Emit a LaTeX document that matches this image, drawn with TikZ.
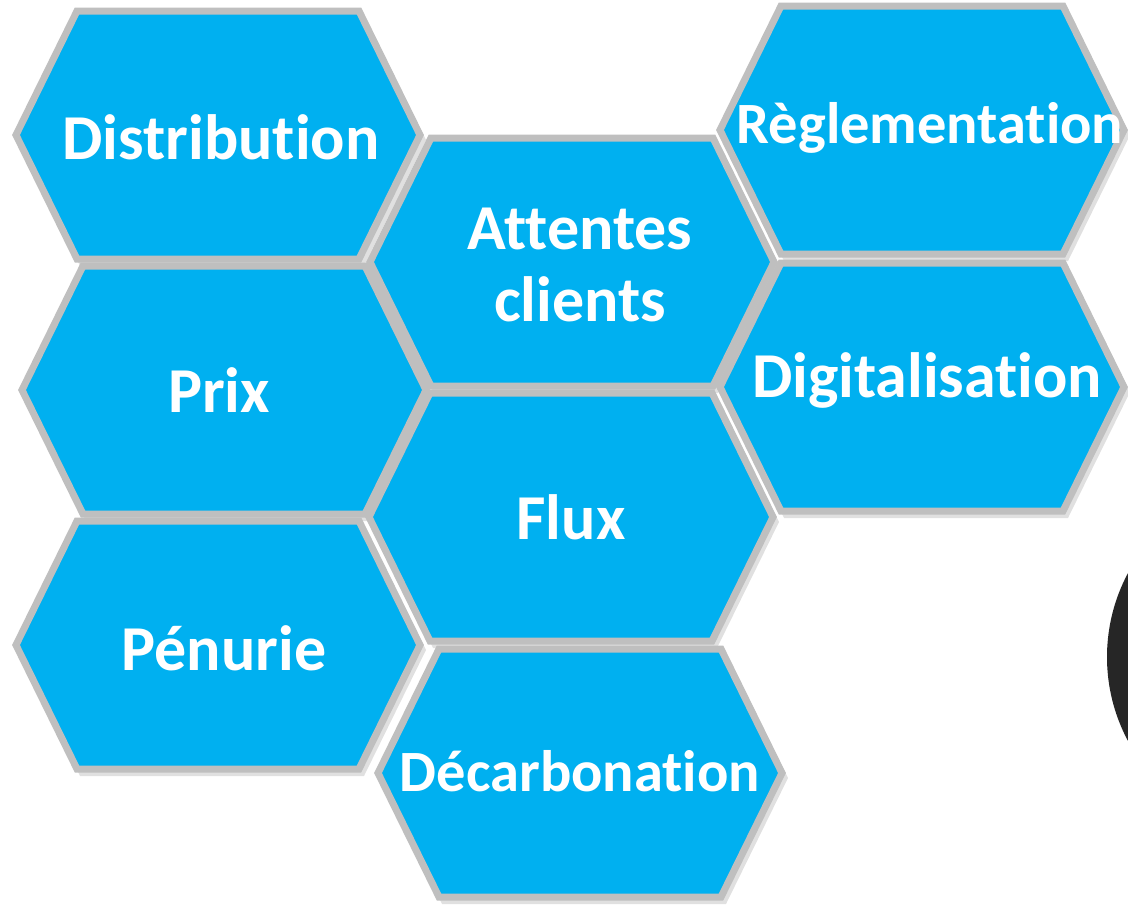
\documentclass[tikz,border=0pt]{standalone}
\usepackage{fontspec}
\setmainfont{Carlito}[Ligatures=NoCommon]
\definecolor{hexblue}{RGB}{0,176,240}
\definecolor{hexgrey}{RGB}{191,191,191}
\definecolor{darkc}{RGB}{38,38,38}
\newcommand\myhexagon[2]{%
  \fill[hexshadow,shift={(#1+4,#2+5)}] (-204,0) -- (-142,-126) -- (142,-126) -- (204,0) -- (142,126) -- (-142,126) -- cycle;
  \draw[hexfill,shift={(#1,#2)}] (-202,0) -- (-141,-124) -- (141,-124) -- (202,0) -- (141,124) -- (-141,124) -- cycle;}
\begin{document}
\begin{tikzpicture}[x=1pt,y=-1pt,
  hexfill/.style={fill=hexblue, draw=hexgrey, line width=7pt, line join=miter},
  hexshadow/.style={fill=black, opacity=0.12},
  lbl/.style={text=white, font=\fontsize{64}{72}\selectfont\bfseries, align=center, inner sep=0pt},
  lblsmall/.style={lbl, font=\fontsize{58.5}{70}\selectfont\bfseries}]
\useasboundingbox (0,0) rectangle (1128,906);
\fill[white] (0,0) rectangle (1128,906);
\begin{scope}
\clip (0,0) rectangle (1128,906);
\myhexagon{218}{135}
\myhexagon{224}{390}
\myhexagon{218}{645}
\myhexagon{572}{262}
\myhexagon{571}{517}
\myhexagon{580}{773}
\myhexagon{922}{130}
\myhexagon{922}{387}
\fill[darkc] (1285,657) circle[radius=178];
\end{scope}
\node[lbl] (distribution) at (221,137) {Distribution};
\node[lbl] (prix) at (219,390) {Prix};
\node[lbl] (penurie) at (224,648) {Pénurie};
\node[lbl] (attentes) at (580,265) {Attentes\\clients};
\node[lbl] (flux) at (571,517) {Flux};
\node[lblsmall] (decarbonation) at (580,771) {Décarbonation};
\node[lblsmall] (reglementation) at (930,128) {Règlementation};
\node[lbl] (digitalisation) at (927,380) {Digitalisation};
\end{tikzpicture}
\end{document}
